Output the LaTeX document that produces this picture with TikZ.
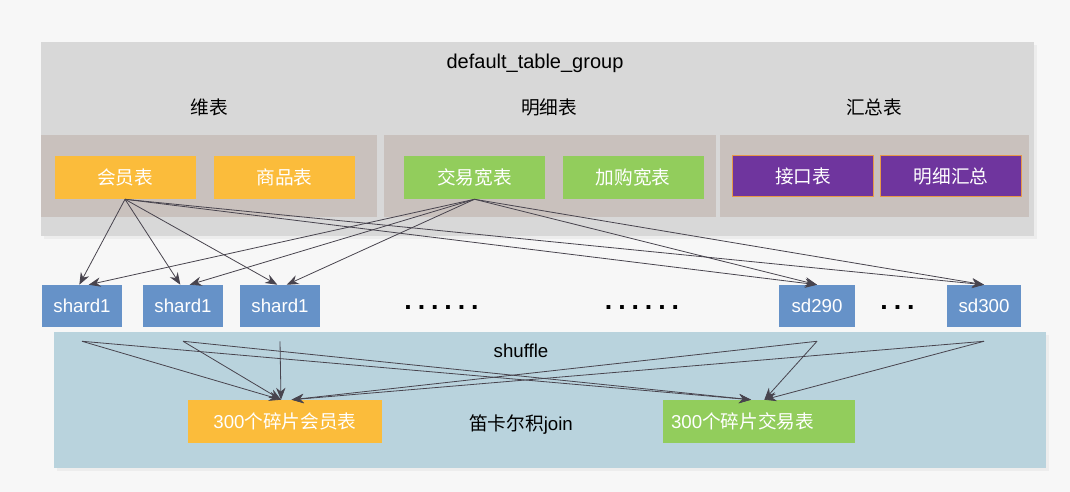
\documentclass[tikz,border=0pt]{standalone}
\usepackage{fontspec}
\setmainfont{Liberation Sans}
\newfontfamily\cjk{Noto Sans CJK SC}
\usepackage{xcolor}
\definecolor{tgPage}  {RGB}{247, 247, 247}
\definecolor{tgGroup} {RGB}{216, 216, 216}
\definecolor{tgPanel} {RGB}{201, 193, 189}
\definecolor{tgAmber} {RGB}{251, 188,  59}
\definecolor{tgLeaf}  {RGB}{146, 205,  92}
\definecolor{tgGrape} {RGB}{111,  53, 158}
\definecolor{tgRim}   {RGB}{232, 152,  72}
\definecolor{tgSteel} {RGB}{102, 146, 200}
\definecolor{tgHaze}  {RGB}{185, 211, 221}
\definecolor{tgInk}   {RGB}{ 72,  68,  78}
\usepackage{tikz}
\usetikzlibrary{
  arrows.meta,
  positioning,
  shadows,
}

\newcommand\dotrow[1]{\foreach\i in {1,...,#1}{\makebox[10pt]{.}}}

\begin{document}
\begin{tikzpicture}[
  x=0.75pt, y=-0.75pt,
  >={Stealth[length=9pt,width=7pt]},
  font=\fontsize{14}{17}\selectfont,
  frame/.style={rectangle, inner sep=0pt,
                general shadow={fill=black!7, shadow xshift=2pt, shadow yshift=-2pt}},
  grpbox/.style={frame, fill=tgGroup, minimum width=744.75pt, minimum height=145.5pt},
  shufbox/.style={frame, fill=tgHaze, minimum width=744pt, minimum height=102pt},
  panel/.style={rectangle, fill=tgPanel, inner sep=0pt, minimum height=61.5pt},
  tbl/.style={rectangle, inner sep=0pt, minimum width=105.75pt,
              minimum height=32.25pt, text=white},
  dimtbl/.style={tbl, fill=tgAmber},
  dettbl/.style={tbl, fill=tgLeaf},
  sumtbl/.style={tbl, fill=tgGrape, draw=tgRim, line width=0.6pt,
                 minimum height=30.75pt},
  shard/.style={rectangle, inner sep=0pt, fill=tgSteel, text=white,
                minimum width=60pt, minimum height=31.5pt},
  gap/.style={font=\fontsize{20}{20}\selectfont\bfseries, inner sep=0pt},
  flow/.style={->, draw=tgInk, line width=0.6pt},
]
  % page background fixes the bounding box
  \fill[tgPage] (0,0) rectangle (1070,492);

  % Table group
  \node[grpbox] (grp) at (537.5,139) {};
  \node[font=\fontsize{15}{18}\selectfont] (title) at (535,63) {default\_table\_group};

  \node[panel, minimum width=252pt]   (dimbox) at (209,176)   {};
  \node[panel, minimum width=249pt]   (detbox) at (550,176)   {};
  \node[panel, minimum width=231.75pt](sumbox) at (874.5,176) {};

  \node (dimlbl) at (209,107) {\cjk 维表};
  \node (detlbl) at (549,107) {\cjk 明细表};
  \node (sumlbl) at (874,107) {\cjk 汇总表};

  \node[dimtbl] (member) at (125,177.5) {\cjk 会员表};
  \node[dimtbl] (goods)  at (284.5,177.5) {\cjk 商品表};
  \node[dettbl] (trade)  at (474.5,177.5) {\cjk 交易宽表};
  \node[dettbl] (cart)   at (633,177.5) {\cjk 加购宽表};
  \node[sumtbl] (iface)  at (803,176) {\cjk 接口表};
  \node[sumtbl] (detsum) at (951,176) {\cjk 明细汇总};

  % Shards
  \node[shard] (sa)   at (82,306)  {shard1};
  \node[shard] (sb)   at (183,306) {shard1};
  \node[shard] (sc)   at (280,306) {shard1};
  \node[shard, minimum width=57pt] (s290) at (817,306) {sd290};
  \node[shard, minimum width=56pt] (s300) at (984,306) {sd300};

  \node[gap] (gap1) at (441.5,308) {\dotrow{6}};
  \node[gap] (gap2) at (642,308)   {\dotrow{6}};
  \node[gap] (gap3) at (897.5,308) {\dotrow{3}};

  % Shuffle stage
  \node[shufbox] (shuf) at (550,400) {};
  \node (shuflbl) at (521,351) {shuffle};
  \node (joinlbl) at (521,425) {{\cjk 笛卡尔积}join};

  \node[dimtbl, minimum width=145.5pt] (jm) at (285,421.5) {300{\cjk 个碎片会员表}};
  \node[dettbl, minimum width=144pt, text width=132pt, inner xsep=6pt,
        align=left] (jt) at (759,421.5) {300{\cjk 个碎片交易表}};

  % shuffle sources sit just under each shard
  \foreach \s in {sa,sb,sc,s290,s300}
    \coordinate (\s-o) at ([yshift=-10.5pt]\s.south);

  % Distribution: both big tables into every shard
  \foreach \s in {sa,sb,sc} {
    \draw[flow] (member.south) -- ([xshift=-2pt]\s.north);
    \draw[flow] (trade.south)  -- ([xshift=5pt]\s.north);
  }
  \foreach \s in {s290,s300} {
    \draw[flow] (member.south) -- (\s.north);
    \draw[flow] (trade.south)  -- (\s.north);
  }

  % Shuffle into the joined tables
  \foreach \s in {sa,sb,sc}
    \draw[flow] (\s-o) -- ([xshift=-3pt]jm.north);
  \foreach \s in {s290,s300}
    \draw[flow] (\s-o) -- ([xshift=5pt]jm.north);
  \foreach \s in {sa,sb}
    \draw[flow] (\s-o) -- ([xshift=-6pt]jt.north);
  \foreach \s in {s290,s300}
    \draw[flow] (\s-o) -- ([xshift=4pt]jt.north);
\end{tikzpicture}
\end{document}
